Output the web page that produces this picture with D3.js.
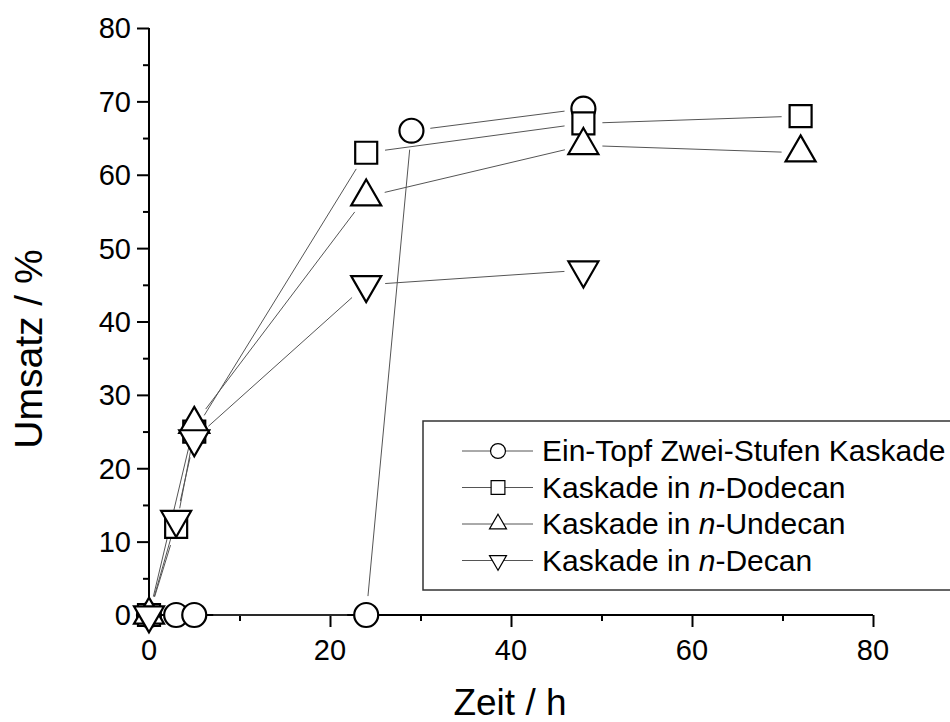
<!DOCTYPE html>
<html>
<head>
<meta charset="utf-8">
<script src="https://cdn.jsdelivr.net/npm/d3@7"></script>
<style>
  body { margin: 0; background: #fff; }
  svg { display: block; font-family: "Liberation Sans", Arial, sans-serif; }
</style>
</head>
<body>
<svg width="950" height="722"></svg>
<script>
const eintopfZeit = [0, 3, 5, 24, 29, 48]
const eintopfUmsatz = [0, 0, 0, 0, 66, 69]
const dodecanZeit = [0, 3, 5, 24, 48, 72]
const dodecanUmsatz = [0, 12, 25, 63, 67, 68]
const undecanZeit = [0, 5, 24, 48, 72]
const undecanUmsatz = [0, 26, 57, 64, 63]
const decanZeit = [0, 3, 5, 24, 48]
const decanUmsatz = [0, 13, 24, 45, 47]

const xTicks = [0, 20, 40, 60, 80]
const yTicks = [0, 10, 20, 30, 40, 50, 60, 70, 80]

const svg = d3.select('svg')

const x = d3.scaleLinear().domain([0, 80]).range([149, 873])
const y = d3.scaleLinear().domain([0, 80]).range([615, 28])

const zip = (xs, ys) => xs.map((d, i) => ({ x: d, y: ys[i] }))

// Zeichenreihenfolge: Kreis, Quadrat, Dreieck hoch, Dreieck runter
const serien = [
    { name: 'Ein-Topf Zwei-Stufen Kaskade', kursiv: '', rest: '', sym: d3.symbolCircle, size: 452, legSize: 175, rot: 0, data: zip(eintopfZeit, eintopfUmsatz) },
    { name: 'Kaskade in ', kursiv: 'n', rest: '-Dodecan', sym: d3.symbolSquare, size: 484, legSize: 190, rot: 0, data: zip(dodecanZeit, dodecanUmsatz) },
    { name: 'Kaskade in ', kursiv: 'n', rest: '-Undecan', sym: d3.symbolTriangle, size: 390, legSize: 125, rot: 0, data: zip(undecanZeit, undecanUmsatz) },
    { name: 'Kaskade in ', kursiv: 'n', rest: '-Decan', sym: d3.symbolTriangle, size: 390, legSize: 125, rot: 180, data: zip(decanZeit, decanUmsatz) }
]

// Achsen
const xAxis = svg.append('g').attr('transform', 'translate(0,615)')
xAxis.call(d3.axisBottom(x).tickValues(d3.range(0, 81, 10)).tickSize(6).tickFormat(''))
xAxis.call(g => g.selectAll('.tick line').attr('stroke-width', 2)
    .attr('y2', d => d % 20 === 0 ? 12 : 6))
xAxis.select('.domain').attr('d', 'M149,0H873').attr('stroke-width', 2)
xAxis.selectAll('.lbl').data(xTicks).join('text')
    .attr('class', 'lbl')
    .attr('x', d => x(d)).attr('y', 45)
    .attr('text-anchor', 'middle').attr('font-size', 29).attr('fill', '#000')
    .text(d => d)

const yAxis = svg.append('g').attr('transform', 'translate(149,0)')
yAxis.call(d3.axisLeft(y).tickValues(d3.range(0, 81, 5)).tickSize(6).tickFormat(''))
yAxis.call(g => g.selectAll('.tick line').attr('stroke-width', 2)
    .attr('x2', d => d % 10 === 0 ? -12 : -6))
yAxis.select('.domain').attr('d', 'M0,28V615').attr('stroke-width', 2)
yAxis.selectAll('.lbl').data(yTicks).join('text')
    .attr('class', 'lbl')
    .attr('x', -18).attr('y', d => y(d)).attr('dy', '0.36em')
    .attr('text-anchor', 'end').attr('font-size', 29).attr('fill', '#000')
    .text(d => d)

svg.append('text')
    .attr('x', 510).attr('y', 715)
    .attr('text-anchor', 'middle').attr('font-size', 37)
    .text('Zeit / h')

svg.append('text')
    .attr('transform', 'translate(42,349) rotate(-90)')
    .attr('text-anchor', 'middle').attr('font-size', 39)
    .text('Umsatz / %')

// Verbindungslinien mit Lücke an den Symbolen
const luecke = 19
serien.forEach(s => {
    const pts = s.data.map(d => [x(d.x), y(d.y)])
    for (let i = 0; i < pts.length - 1; i++) {
        const [x1, y1] = pts[i], [x2, y2] = pts[i + 1]
        const len = Math.hypot(x2 - x1, y2 - y1)
        if (len <= 2 * luecke) continue
        const ux = (x2 - x1) / len, uy = (y2 - y1) / len
        svg.append('line')
            .attr('x1', x1 + ux * luecke).attr('y1', y1 + uy * luecke)
            .attr('x2', x2 - ux * luecke).attr('y2', y2 - uy * luecke)
            .attr('stroke', '#555').attr('stroke-width', 1)
    }
})

// Symbole
serien.forEach(s => {
    svg.append('g').selectAll('path')
        .data(s.data)
        .join('path')
        .attr('transform', d => `translate(${x(d.x)},${y(d.y)}) rotate(${s.rot})`)
        .attr('d', d3.symbol().type(s.sym).size(s.size))
        .attr('fill', '#fff')
        .attr('stroke', '#000')
        .attr('stroke-width', 2.2)
})

// Legende
const legende = svg.append('g')
legende.append('rect')
    .attr('x', 423).attr('y', 421).attr('width', 560).attr('height', 169)
    .attr('fill', 'none').attr('stroke', '#333').attr('stroke-width', 1.5)

serien.forEach((s, i) => {
    const ly = 451 + i * 36.5
    legende.append('line')
        .attr('x1', 462).attr('x2', 533).attr('y1', ly).attr('y2', ly)
        .attr('stroke', '#555').attr('stroke-width', 1)
    legende.append('path')
        .attr('transform', `translate(498,${ly}) rotate(${s.rot})`)
        .attr('d', d3.symbol().type(s.sym).size(s.legSize))
        .attr('fill', '#fff').attr('stroke', '#000').attr('stroke-width', 1.2)
    const t = legende.append('text')
        .attr('x', 542).attr('y', ly).attr('dy', '0.34em')
        .attr('font-size', 30)
    t.append('tspan').text(s.name)
    if (s.kursiv) {
        t.append('tspan').attr('font-style', 'italic').text(s.kursiv)
        t.append('tspan').text(s.rest)
    }
})
</script>
</body>
</html>
